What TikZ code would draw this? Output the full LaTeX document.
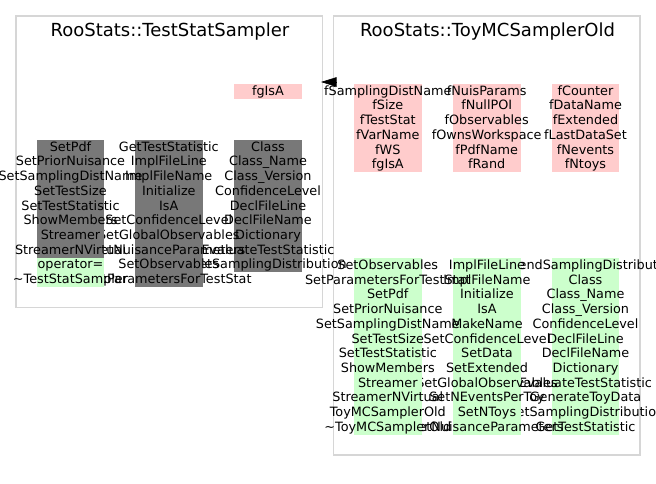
\documentclass[tikz,border=0pt]{standalone}
\usepackage{fontspec}
\setmainfont{DejaVu Sans}
\usetikzlibrary{arrows.meta}
\definecolor{framegray}{HTML}{D6D6D6}
\definecolor{memgray}{HTML}{787878}
\definecolor{mempink}{HTML}{FFCCCC}
\definecolor{memgreen}{HTML}{CCFFCC}
\tikzset{
  cluster/.style={draw=framegray, line width=1.6pt, inner sep=0pt, outer sep=0pt, anchor=north west},
  ctitle/.style={font=\fontsize{18}{20}\selectfont, anchor=base, inner sep=0pt},
  membox/.style={minimum width=67.6pt, minimum height=#1, inner sep=0pt, outer sep=0pt, anchor=north, draw=none},
  memtext/.style={font=\fontsize{12.8}{14}\selectfont, anchor=base, inner sep=0pt},
}
% name, x centre, top y, colour, number of lines, list of lines
\newcommand\memcol[6]{%
  \node[membox=#5*14.72pt, fill=#4] (#1) at (#2,#3) {};
  \foreach \t [count=\i from 0] in {#6}
    \node[memtext] (#1-\i) at (#2, #3+11.2+\i*14.72) {\t};
}
\begin{document}
\begin{tikzpicture}[x=1pt,y=-1pt]
\useasboundingbox (0,0) rectangle (656,483);
\fill[white] (0,0) rectangle (656,483);

% clusters
\node[cluster, minimum width=306.8pt, minimum height=291.8pt] (tss) at (15.7,15.7) {};
\node[cluster, minimum width=306.4pt, minimum height=439.3pt] (toy) at (333.3,15.7) {};
\node[ctitle] (tssTitle) at (170,36.5) {RooStats::TestStatSampler};
\node[ctitle] (toyTitle) at (487.5,36.2) {RooStats::ToyMCSamplerOld};

% TestStatSampler members
\memcol{tssD}{268}{84}{mempink}{1}{fgIsA}
\memcol{tssC}{268}{140}{memgray}{9}{Class,Class\_Name,Class\_Version,ConfidenceLevel,DeclFileLine,DeclFileName,Dictionary,EvaluateTestStatistic,GetSamplingDistribution}
\memcol{tssB}{168.8}{140}{memgray}{10}{GetTestStatistic,ImplFileLine,ImplFileName,Initialize,IsA,SetConfidenceLevel,SetGlobalObservables,SetNuisanceParameters,SetObservables,SetParametersForTestStat}
\memcol{tssA}{70.5}{140}{memgray}{8}{SetPdf,SetPriorNuisance,SetSamplingDistName,SetTestSize,SetTestStatistic,ShowMembers,Streamer,StreamerNVirtual}
\memcol{tssE}{70.5}{257.76}{memgreen}{2}{operator=,\textasciitilde TestStatSampler}

% ToyMCSamplerOld data members
\memcol{toyC}{585.5}{84}{mempink}{6}{fCounter,fDataName,fExtended,fLastDataSet,fNevents,fNtoys}
\memcol{toyB}{486.7}{84}{mempink}{6}{fNuisParams,fNullPOI,fObservables,fOwnsWorkspace,fPdfName,fRand}
\memcol{toyA}{387.8}{84}{mempink}{6}{fSamplingDistName,fSize,fTestStat,fVarName,fWS,fgIsA}

% ToyMCSamplerOld methods
\memcol{toyF}{585.5}{258.3}{memgreen}{12}{AppendSamplingDistribution,Class,Class\_Name,Class\_Version,ConfidenceLevel,DeclFileLine,DeclFileName,Dictionary,EvaluateTestStatistic,GenerateToyData,GetSamplingDistribution,GetTestStatistic}
\memcol{toyE}{487}{258.3}{memgreen}{12}{ImplFileLine,ImplFileName,Initialize,IsA,MakeName,SetConfidenceLevel,SetData,SetExtended,SetGlobalObservables,SetNEventsPerToy,SetNToys,SetNuisanceParameters}
\memcol{toyD}{387.8}{258.3}{memgreen}{12}{SetObservables,SetParametersForTestStat,SetPdf,SetPriorNuisance,SetSamplingDistName,SetTestSize,SetTestStatistic,ShowMembers,Streamer,StreamerNVirtual,ToyMCSamplerOld,\textasciitilde ToyMCSamplerOld}

% inheritance arrow
\coordinate (inhTip) at (321,82);
\coordinate (inhBase) at (336.5,82);
\draw[-{Triangle[length=15.5pt,width=9.5pt]}, line width=0.6pt] (inhBase) -- (inhTip);
\end{tikzpicture}
\end{document}
